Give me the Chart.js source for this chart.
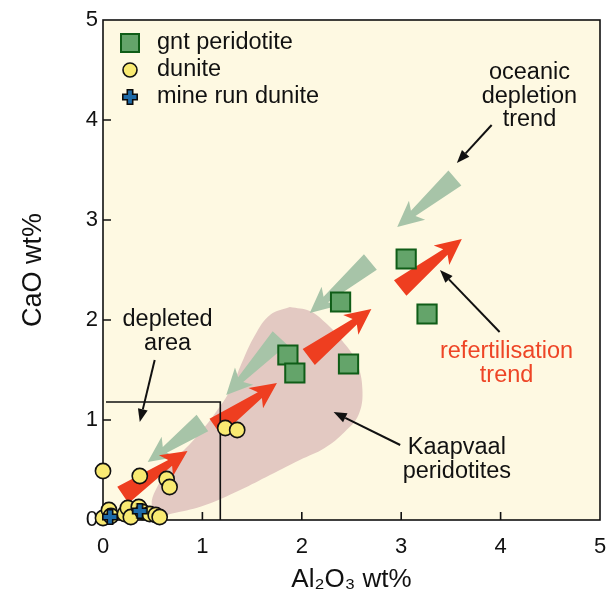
<!DOCTYPE html>
<html>
<head>
<meta charset="utf-8">
<script src="https://cdn.jsdelivr.net/npm/chart.js@4.4.0/dist/chart.umd.min.js"></script>
<style>
  html, body { margin: 0; padding: 0; background: #fff; }
</style>
</head>
<body>
<canvas id="chart" width="609" height="599"></canvas>
<script>
// CaO vs Al2O3 plot: garnet peridotite, dunite, mine run dunite + trend arrows

const xTicks = [0, 1, 2, 3, 4, 5];
const yTicks = [0, 1, 2, 3, 4, 5];

// points (Al2O3 wt%, CaO wt%)
const gntPeridotite = [
  { x: 3.05, y: 2.61 }, { x: 3.26, y: 2.06 }, { x: 2.39, y: 2.18 },
  { x: 1.86, y: 1.65 }, { x: 1.93, y: 1.47 }, { x: 2.47, y: 1.56 }
];
const dunite = [
  { x: 0.00, y: 0.02 }, { x: 0.06, y: 0.10 }, { x: 0.08, y: 0.04 }, { x: 0.22, y: 0.06 },
  { x: 0.25, y: 0.12 }, { x: 0.28, y: 0.03 }, { x: 0.36, y: 0.13 }, { x: 0.40, y: 0.08 },
  { x: 0.47, y: 0.06 }, { x: 0.53, y: 0.05 }, { x: 0.57, y: 0.03 },
  { x: 0.00, y: 0.49 }, { x: 0.37, y: 0.44 }, { x: 0.64, y: 0.41 }, { x: 0.67, y: 0.33 },
  { x: 1.23, y: 0.92 }, { x: 1.35, y: 0.90 }
];
const mineRunDunite = [{ x: 0.07, y: 0.03 }, { x: 0.37, y: 0.09 }];

// outline of the Kaapvaal peridotite field
const kaapvaal = [
  { x: 1.88, y: 2.13 }, { x: 2.08, y: 2.09 }, { x: 2.23, y: 1.98 }, { x: 2.40, y: 1.80 },
  { x: 2.55, y: 1.58 }, { x: 2.61, y: 1.30 }, { x: 2.57, y: 1.05 }, { x: 2.43, y: 0.88 },
  { x: 2.23, y: 0.72 }, { x: 1.98, y: 0.60 }, { x: 1.68, y: 0.45 }, { x: 1.38, y: 0.30 },
  { x: 1.03, y: 0.15 }, { x: 0.72, y: 0.07 }, { x: 0.55, y: 0.05 }, { x: 0.49, y: 0.15 },
  { x: 0.53, y: 0.30 }, { x: 0.70, y: 0.57 }, { x: 0.93, y: 0.82 }, { x: 1.13, y: 1.07 },
  { x: 1.28, y: 1.30 }, { x: 1.40, y: 1.58 }, { x: 1.53, y: 1.85 }, { x: 1.68, y: 2.05 },
  { x: 1.88, y: 2.13 }
];

// depleted area box
const depletedBox = [{ x: 0.03, y: 1.18 }, { x: 1.18, y: 1.18 }, { x: 1.18, y: 0 }];

// trend arrows: [tailX, tailY, tipX, tipY]
const depletionArrows = [
  [3.54, 3.42, 2.96, 2.93],
  [2.69, 2.58, 2.08, 2.07],
  [1.78, 1.82, 1.24, 1.25],
  [1.00, 0.97, 0.45, 0.58]
];
const refertArrows = [
  [2.99, 2.32, 3.61, 2.81],
  [2.07, 1.63, 2.70, 2.11],
  [1.13, 0.93, 1.75, 1.37],
  [0.20, 0.25, 0.85, 0.69]
];

// labels with pointer arrows
const noteLines = [
  ['oceanic', 'depletion', 'trend'],
  ['refertilisation', 'trend'],
  ['depleted', 'area'],
  ['Kaapvaal', 'peridotites']
];
const noteAt = [[4.29, 4.47], [4.06, 1.68], [0.65, 2.00], [3.56, 0.72]];
const notePointers = [
  [3.91, 3.95, 3.56, 3.57],
  [3.99, 1.88, 3.39, 2.50],
  [0.52, 1.60, 0.37, 0.98],
  [2.99, 0.75, 2.32, 1.08]
];
const noteColors = ['#111', '#ee4526', '#111', '#111'];

const legendLabels = ['gnt peridotite', 'dunite', 'mine run dunite'];

const FONT = "'Liberation Sans', Arial, Helvetica, sans-serif";
Chart.defaults.font.family = FONT;
Chart.defaults.color = '#111';

// blue plus with dark outline for mine run dunite
function makeCross() {
  const c = document.createElement('canvas');
  c.width = 18; c.height = 18;
  const g = c.getContext('2d');
  const a = 2.7, b = 7.2;
  const o = 9;
  g.beginPath();
  g.moveTo(o - a, o - b); g.lineTo(o + a, o - b); g.lineTo(o + a, o - a);
  g.lineTo(o + b, o - a); g.lineTo(o + b, o + a); g.lineTo(o + a, o + a);
  g.lineTo(o + a, o + b); g.lineTo(o - a, o + b); g.lineTo(o - a, o + a);
  g.lineTo(o - b, o + a); g.lineTo(o - b, o - a); g.lineTo(o - a, o - a);
  g.closePath();
  g.fillStyle = '#1d6aa8';
  g.fill();
  g.lineWidth = 1.6;
  g.strokeStyle = '#0b0b0b';
  g.stroke();
  return c;
}
const crossImg = makeCross();

function trendArrow(ctx, x0, y0, x1, y1, color) {
  const dx = x1 - x0, dy = y1 - y0;
  const L = Math.hypot(dx, dy);
  const ux = dx / L, uy = dy / L, nx = -uy, ny = ux;
  const pts = [[0, 10], [L - 21, 3.5], [L - 26, 12.5], [L, 0], [L - 26, -12.5], [L - 21, -3.5], [0, -10]];
  ctx.beginPath();
  pts.forEach(([s, v], i) => {
    const px = x0 + ux * s + nx * v, py = y0 + uy * s + ny * v;
    if (i) ctx.lineTo(px, py); else ctx.moveTo(px, py);
  });
  ctx.closePath();
  ctx.fillStyle = color;
  ctx.fill();
}

function pointer(ctx, x0, y0, x1, y1) {
  const ang = Math.atan2(y1 - y0, x1 - x0);
  const hl = 13, hw = 5;
  const bx = x1 - Math.cos(ang) * hl, by = y1 - Math.sin(ang) * hl;
  ctx.strokeStyle = '#111';
  ctx.lineWidth = 2;
  ctx.beginPath();
  ctx.moveTo(x0, y0);
  ctx.lineTo(bx, by);
  ctx.stroke();
  ctx.beginPath();
  ctx.moveTo(x1, y1);
  ctx.lineTo(bx - Math.sin(ang) * hw, by + Math.cos(ang) * hw);
  ctx.lineTo(bx + Math.sin(ang) * hw, by - Math.cos(ang) * hw);
  ctx.closePath();
  ctx.fillStyle = '#111';
  ctx.fill();
}

const decor = {
  id: 'decor',
  beforeDraw(chart) {
    const { ctx, chartArea: a } = chart;
    ctx.save();
    ctx.fillStyle = '#fef9e2';
    ctx.fillRect(a.left, a.top, a.right - a.left, a.bottom - a.top);
    ctx.restore();
  },
  beforeDatasetsDraw(chart) {
    const { ctx, chartArea: a, scales } = chart;
    ctx.save();
    ctx.strokeStyle = '#111';
    ctx.lineWidth = 1.6;
    ctx.strokeRect(a.left, a.top, a.right - a.left, a.bottom - a.top);
    ctx.beginPath();
    xTicks.slice(1, -1).forEach(v => {
      const px = scales.x.getPixelForValue(v);
      ctx.moveTo(px, a.bottom); ctx.lineTo(px, a.bottom - 8);
    });
    yTicks.slice(1, -1).forEach(v => {
      const py = scales.y.getPixelForValue(v);
      ctx.moveTo(a.left, py); ctx.lineTo(a.left + 8, py);
    });
    ctx.stroke();
    ctx.restore();
  },
  afterDatasetDraw(chart, args) {
    // trend arrows sit on the Kaapvaal field, under the points
    if (args.index !== 4) return;
    const { ctx, scales: { x, y } } = chart;
    ctx.save();
    depletionArrows.forEach(r => trendArrow(ctx, x.getPixelForValue(r[0]), y.getPixelForValue(r[1]),
      x.getPixelForValue(r[2]), y.getPixelForValue(r[3]), '#a7c4a8'));
    refertArrows.forEach(r => trendArrow(ctx, x.getPixelForValue(r[0]), y.getPixelForValue(r[1]),
      x.getPixelForValue(r[2]), y.getPixelForValue(r[3]), '#ee3e20'));
    ctx.restore();
  },
  afterDatasetsDraw(chart) {
    const { ctx, chartArea: a, scales: { x, y } } = chart;
    ctx.save();
    // notes
    ctx.font = `23.5px ${FONT}`;
    ctx.textAlign = 'center';
    ctx.textBaseline = 'middle';
    noteLines.forEach((lines, i) => {
      ctx.fillStyle = noteColors[i];
      const cx = x.getPixelForValue(noteAt[i][0]);
      const cy = y.getPixelForValue(noteAt[i][1]);
      lines.forEach((t, j) => ctx.fillText(t, cx, cy + j * 23.5));
      const p = notePointers[i];
      pointer(ctx, x.getPixelForValue(p[0]), y.getPixelForValue(p[1]),
        x.getPixelForValue(p[2]), y.getPixelForValue(p[3]));
    });
    // legend
    const lx = a.left + 27, ly = a.top + 23;
    ctx.fillStyle = '#64a46a'; ctx.strokeStyle = '#0f5d17'; ctx.lineWidth = 2;
    ctx.fillRect(lx - 9, ly - 9, 18, 18); ctx.strokeRect(lx - 9, ly - 9, 18, 18);
    ctx.beginPath(); ctx.arc(lx, ly + 27, 7, 0, Math.PI * 2);
    ctx.fillStyle = '#f9ea72'; ctx.fill(); ctx.lineWidth = 1.6; ctx.strokeStyle = '#111'; ctx.stroke();
    ctx.drawImage(crossImg, lx - 9, ly + 54 - 9);
    ctx.font = `23.5px ${FONT}`;
    ctx.textAlign = 'left';
    ctx.fillStyle = '#111';
    legendLabels.forEach((t, i) => ctx.fillText(t, lx + 27, ly + i * 27));
    ctx.restore();
  }
};

new Chart(document.getElementById('chart'), {
  type: 'scatter',
  data: {
    datasets: [
      { label: 'mine run dunite', data: mineRunDunite, pointStyle: crossImg, pointRadius: 9, clip: false },
      { label: 'gnt peridotite', data: gntPeridotite, pointStyle: 'rect', pointRadius: 13.6,
        backgroundColor: '#64a46a', borderColor: '#0f5d17', borderWidth: 2, clip: false },
      { label: 'dunite', data: dunite, pointStyle: 'circle', pointRadius: 7.6,
        backgroundColor: '#f9ea72', borderColor: '#111', borderWidth: 1.6, clip: false },
      { label: 'depleted area', type: 'line', data: depletedBox, borderColor: '#111', borderWidth: 1.6,
        pointRadius: 0, fill: false, tension: 0 },
      { label: 'Kaapvaal', type: 'line', data: kaapvaal, borderWidth: 0, borderColor: 'rgba(0,0,0,0)',
        backgroundColor: '#e3c9c2', fill: 'shape', pointRadius: 0, tension: 0.4 }
    ]
  },
  options: {
    responsive: false,
    animation: false,
    events: [],
    layout: { autoPadding: false, padding: { top: 20, right: 9, left: 0, bottom: 0 } },
    plugins: { legend: { display: false }, tooltip: { enabled: false } },
    scales: {
      x: {
        type: 'linear', min: 0, max: 5,
        afterBuildTicks: s => { s.ticks = xTicks.map(v => ({ value: v })); },
        afterFit: s => { s.height = 79; },
        // tick marks are drawn inside by the plugin; tickLength only offsets the labels
        grid: { display: false, drawTicks: true, tickLength: 14 },
        border: { display: false },
        ticks: { font: { size: 22 }, color: '#111', padding: 0 },
        title: { display: true, text: 'Al₂O₃ wt%', font: { size: 26 }, color: '#111', padding: { top: 0, bottom: 4 } }
      },
      y: {
        type: 'linear', min: 0, max: 5,
        afterBuildTicks: s => { s.ticks = yTicks.map(v => ({ value: v })); },
        afterFit: s => { s.width = 103; },
        grid: { display: false, drawTicks: true, tickLength: 5 },
        border: { display: false },
        ticks: { font: { size: 22 }, color: '#111', padding: 0 },
        title: { display: true, text: 'CaO wt%', font: { size: 27 }, color: '#111', padding: { top: 17, bottom: 0 } }
      }
    }
  },
  plugins: [decor]
});
</script>
</body>
</html>
